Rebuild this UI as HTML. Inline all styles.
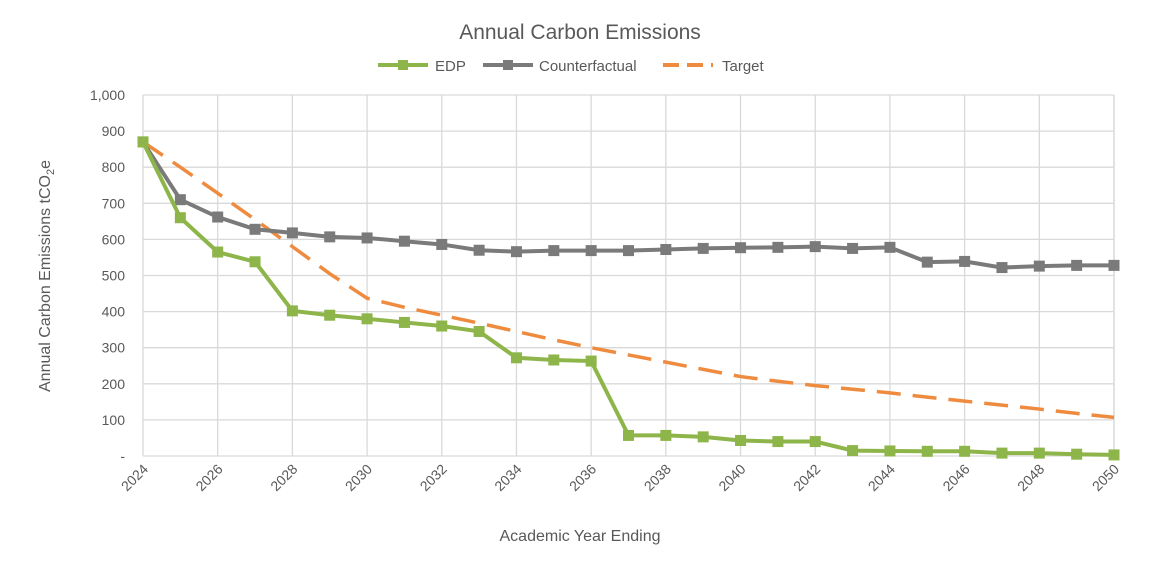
<!DOCTYPE html>
<html><head><meta charset="utf-8"><style>
body{margin:0;background:#fff;font-family:"Liberation Sans",sans-serif;}
svg text{font-family:"Liberation Sans",sans-serif;fill:#595959;}
</style></head><body>
<svg id="chart" width="1157" height="566" xmlns="http://www.w3.org/2000/svg">
<text x="580" y="39" font-size="21" text-anchor="middle">Annual Carbon Emissions</text>
<g>
<g><line x1="378" y1="65" x2="428" y2="65" stroke="#8db54a" stroke-width="4"/><rect x="398" y="60" width="10" height="10" fill="#8db54a"/><text x="435" y="71" font-size="15">EDP</text></g>
<g><line x1="483" y1="65" x2="533" y2="65" stroke="#7a7a7a" stroke-width="4"/><rect x="503" y="60" width="10" height="10" fill="#7a7a7a"/><text x="539" y="71" font-size="15">Counterfactual</text></g>
<g><line x1="663" y1="65" x2="713" y2="65" stroke="#ee8b3f" stroke-width="4" stroke-dasharray="16,8"/><text x="722" y="71" font-size="15">Target</text></g>
</g>
<g id="grid"></g>
<g id="axes"></g>
<g id="series"></g>
<text transform="translate(50,276) rotate(-90)" font-size="16" text-anchor="middle">Annual Carbon Emissions tCO<tspan font-size="11" dy="4">2</tspan><tspan dy="-4">e</tspan></text>
<text x="580" y="541" font-size="16" text-anchor="middle">Academic Year Ending</text>
</svg>
<script>
const years=[2024,2025,2026,2027,2028,2029,2030,2031,2032,2033,2034,2035,2036,2037,2038,2039,2040,2041,2042,2043,2044,2045,2046,2047,2048,2049,2050];
const edp=[870,660,565,538,402,390,380,370,360,345,272,266,263,57,57,53,43,40,40,15,14,13,13,8,8,5,3];
const counterfactual=[870,710,662,628,618,607,604,595,586,570,566,569,569,569,572,575,577,578,580,575,578,537,539,522,526,528,528];
const target=[870,800,728,655,580,505,437,412,390,368,345,322,300,280,260,240,220,207,195,185,175,163,152,141,130,118,107];
const yTicks=[0,100,200,300,400,500,600,700,800,900,1000];
const yTickLabels=["-","100","200","300","400","500","600","700","800","900","1,000"];
const xTickYears=[2024,2026,2028,2030,2032,2034,2036,2038,2040,2042,2044,2046,2048,2050];
const NS="http://www.w3.org/2000/svg";
const X0=143,X1=1114,Y0=456,Y1=95;
function xs(v){return X0+(v-years[0])/(years[years.length-1]-years[0])*(X1-X0);}
function ys(v){return Y0-v/1000*(Y0-Y1);}
function mk(t,a,p){const e=document.createElementNS(NS,t);for(const k in a)e.setAttribute(k,a[k]);p.appendChild(e);return e;}
const grid=document.getElementById('grid'),axes=document.getElementById('axes'),ser=document.getElementById('series');
yTicks.forEach((v,i)=>{
 const l=mk('line',{x1:X0,x2:X1,y1:ys(v),y2:ys(v),stroke:'#d9d9d9','stroke-width':1.3},grid);
 
 
 const t=mk('text',{x:X0-18,y:ys(v)+5,'font-size':14,'text-anchor':'end'},axes);
 t.textContent=yTickLabels[i];
 
 
});
xTickYears.forEach(yr=>{
 const l=mk('line',{x1:xs(yr),x2:xs(yr),y1:Y1,y2:Y0,stroke:'#d9d9d9','stroke-width':1.3},grid);
 
 
 const t=mk('text',{x:xs(yr)+6,y:Y0+14,'font-size':14,'text-anchor':'end',transform:`rotate(-45 ${xs(yr)+6} ${Y0+14})`},axes);
 t.textContent=yr;
 
 
});
mk('line',{x1:X1,x2:X1,y1:Y1,y2:Y0,stroke:'#d9d9d9','stroke-width':1.3},grid);
function pts(arr){return arr.map((v,i)=>xs(years[i])+','+ys(v)).join(' ');}
const tl=mk('polyline',{points:pts(target),fill:'none',stroke:'#ee8b3f','stroke-width':3.5,'stroke-dasharray':'24,12'},ser);


[[counterfactual,'#7a7a7a','counterfactual'],[edp,'#8db54a','edp']].forEach(([arr,c,n])=>{
 const pl=mk('polyline',{points:pts(arr),fill:'none',stroke:c,'stroke-width':4},ser);
 
 
 arr.forEach((v,i)=>{
  const r=mk('rect',{x:xs(years[i])-5.5,y:ys(v)-5.5,width:11,height:11,fill:c},ser);
  
  
 });
});
</script>
</body></html>
